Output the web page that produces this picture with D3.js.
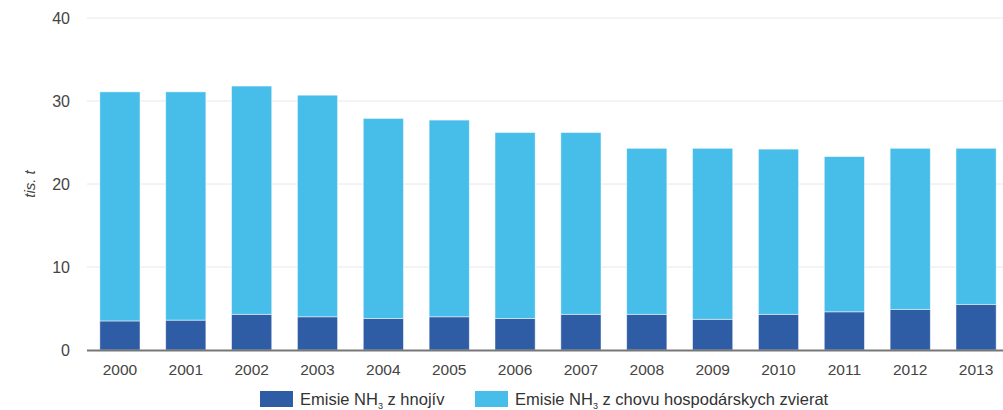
<!DOCTYPE html>
<html><head><meta charset="utf-8">
<script src="https://cdn.jsdelivr.net/npm/d3@7"></script>
<style>body{margin:0;background:#fff;} text{font-family:"Liberation Sans",Arial,sans-serif;}</style>
</head><body><svg id="c" width="1003" height="410"></svg>
<script>
const years = ["2000","2001","2002","2003","2004","2005","2006","2007","2008","2009","2010","2011","2012","2013"];
const fertilizer = [3.5,3.6,4.3,4.0,3.8,4.0,3.8,4.3,4.3,3.7,4.3,4.6,4.9,5.5];
const totals = [31.1,31.1,31.8,30.7,27.9,27.7,26.2,26.2,24.3,24.3,24.2,23.3,24.3,24.3];
const livestock = totals.map((t,i)=>+(t-fertilizer[i]).toFixed(2));
const yTicks = [0,10,20,30,40];
const seriesNames = ["fert","live"];
const colors = {fert:"#2E5CA5", live:"#47BDE9"};

const svg = d3.select("#c");
const x = d3.scaleBand().domain(years).range([87,1009]).paddingInner(0.39).paddingOuter(0.195);
const y = d3.scaleLinear().domain([0,40]).range([350,18]);

// grid
svg.append("g").selectAll("line").data(yTicks.filter(d=>d>0)).join("line")
  .attr("x1",87).attr("x2",1003).attr("y1",d=>y(d)).attr("y2",d=>y(d))
  .attr("stroke","#e8e8e8").attr("stroke-width",1);

// y labels
svg.append("g").selectAll("text").data(yTicks).join("text")
  .attr("x",70).attr("y",d=>y(d)+6).attr("text-anchor","end")
  .attr("font-size",16).attr("fill","#444").text(d=>d);

svg.append("text").attr("transform","translate(35,"+y(20)+") rotate(-90)")
  .attr("text-anchor","middle").attr("font-size",15).attr("font-style","italic").attr("fill","#444").text("tis. t");

const rows = years.map((yr,i)=>({year:yr, fert:fertilizer[i], live:livestock[i]}));
const stack = d3.stack().keys(seriesNames)(rows);
svg.append("g").selectAll("g").data(stack).join("g").attr("fill",d=>colors[d.key])
  .selectAll("rect").data(d=>d).join("rect")
  .attr("x",d=>x(d.data.year)).attr("width",x.bandwidth())
  .attr("y",d=>y(d[1])).attr("height",d=>y(d[0])-y(d[1]))
  .attr("stroke","#fff").attr("stroke-opacity",0.6).attr("stroke-width",0.8);

// baseline
svg.append("line").attr("x1",87).attr("x2",1003).attr("y1",350.5).attr("y2",350.5).attr("stroke","#777").attr("stroke-width",2);

// x labels
svg.append("g").selectAll("text").data(years).join("text")
  .attr("x",d=>x(d)+x.bandwidth()/2).attr("y",375).attr("text-anchor","middle")
  .attr("font-size",15.5).attr("fill","#444").text(d=>d);

// legend
const legend = [{key:"fert",x:260,label:" z hnojív"},{key:"live",x:475,label:" z chovu hospodárskych zvierat"}];
const lg = svg.append("g").selectAll("g").data(legend).join("g").attr("transform",d=>"translate("+d.x+",391)");
lg.append("rect").attr("width",33).attr("height",16).attr("fill",d=>colors[d.key]);
const t = lg.append("text").attr("x",40).attr("y",14).attr("font-size",16.5).attr("fill","#333");
t.append("tspan").text("Emisie NH");
t.append("tspan").attr("font-size",9).attr("dy",4).text("3");
t.append("tspan").attr("dy",-4).text(d=>d.label);
</script></body></html>
